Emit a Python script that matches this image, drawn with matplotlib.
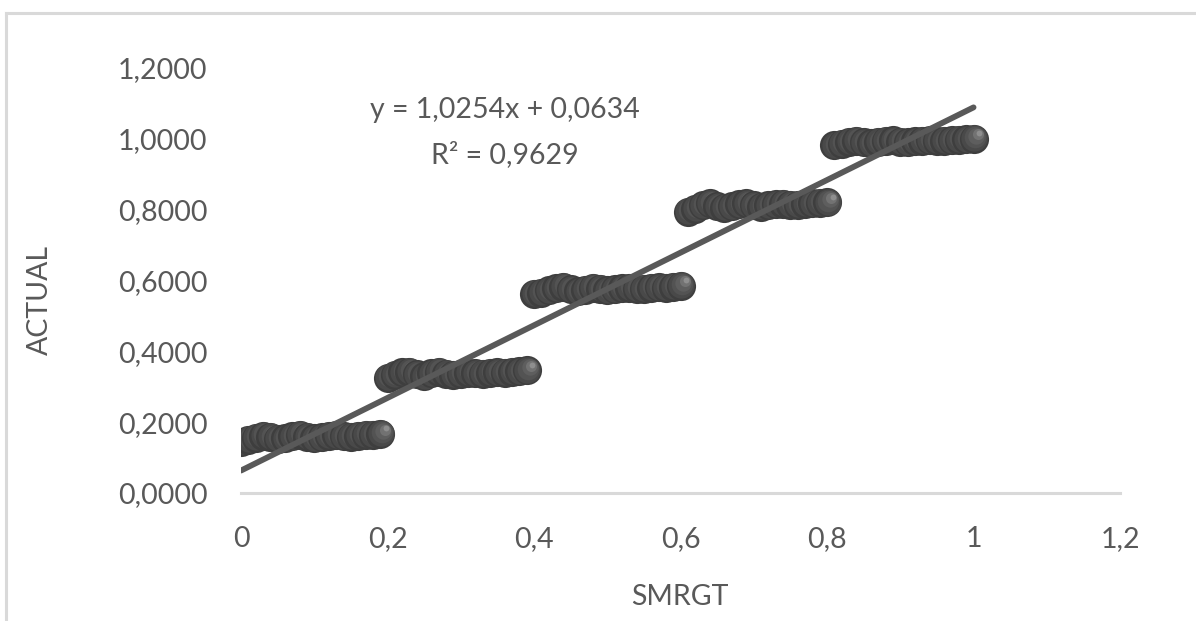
import matplotlib
matplotlib.use("Agg")
import matplotlib.pyplot as plt
from matplotlib.lines import Line2D
from matplotlib.transforms import ScaledTranslation

# SMRGT vs ACTUAL, five bands of points
band_1_x = [0.00, 0.01, 0.02, 0.03, 0.04, 0.05, 0.06, 0.07, 0.08, 0.09,
            0.10, 0.11, 0.12, 0.13, 0.14, 0.15, 0.16, 0.17, 0.18, 0.19]
band_1_y = [0.144, 0.150, 0.156, 0.162, 0.158, 0.153, 0.155, 0.160, 0.164, 0.158,
            0.154, 0.157, 0.161, 0.163, 0.160, 0.159, 0.162, 0.164, 0.165, 0.167]
band_2_x = [0.20, 0.21, 0.22, 0.23, 0.24, 0.25, 0.26, 0.27, 0.28, 0.29,
            0.30, 0.31, 0.32, 0.33, 0.34, 0.35, 0.36, 0.37, 0.38, 0.39]
band_2_y = [0.325, 0.333, 0.341, 0.343, 0.335, 0.330, 0.338, 0.342, 0.336, 0.333,
            0.337, 0.340, 0.338, 0.336, 0.339, 0.341, 0.340, 0.342, 0.344, 0.347]
band_3_x = [0.40, 0.41, 0.42, 0.43, 0.44, 0.45, 0.46, 0.47, 0.48, 0.49, 0.50,
            0.51, 0.52, 0.53, 0.54, 0.55, 0.56, 0.57, 0.58, 0.59, 0.60]
band_3_y = [0.562, 0.566, 0.572, 0.578, 0.582, 0.575, 0.570, 0.574, 0.579, 0.576, 0.572,
            0.575, 0.578, 0.580, 0.577, 0.576, 0.579, 0.581, 0.580, 0.583, 0.585]
band_4_x = [0.61, 0.62, 0.63, 0.64, 0.65, 0.66, 0.67, 0.68, 0.69, 0.70,
            0.71, 0.72, 0.73, 0.74, 0.75, 0.76, 0.77, 0.78, 0.79, 0.80]
band_4_y = [0.794, 0.803, 0.812, 0.818, 0.810, 0.805, 0.810, 0.815, 0.818, 0.812,
            0.808, 0.812, 0.815, 0.817, 0.814, 0.813, 0.816, 0.818, 0.819, 0.821]
band_5_x = [0.81, 0.82, 0.83, 0.84, 0.85, 0.86, 0.87, 0.88, 0.89, 0.90,
            0.91, 0.92, 0.93, 0.94, 0.95, 0.96, 0.97, 0.98, 0.99, 1.00]
band_5_y = [0.982, 0.986, 0.991, 0.995, 0.990, 0.988, 0.991, 0.994, 0.996, 0.992,
            0.990, 0.993, 0.995, 0.996, 0.994, 0.994, 0.996, 0.998, 0.999, 1.000]

trend_slope = 1.0254
trend_intercept = 0.0634
trend_r2 = 0.9629
trend_range = [0.0, 1.0]

x_ticks = [0, 0.2, 0.4, 0.6, 0.8, 1.0, 1.2]
y_ticks = [0, 0.2, 0.4, 0.6, 0.8, 1.0, 1.2]

smrgt = band_1_x + band_2_x + band_3_x + band_4_x + band_5_x
actual = band_1_y + band_2_y + band_3_y + band_4_y + band_5_y

text_color = "#595959"
plt.rcParams["font.family"] = ["Lato", "DejaVu Sans"]

fig = plt.figure(figsize=(11.96, 6.21), dpi=100)
ax = fig.add_axes([0.2015, 0.2061, 0.735, 0.6844])

# shaded "sphere" markers: stacked circles, lighter toward the top right
radius_in = 0.145
base_size = 440
layers = [
    (1.00, 0.00, "#3e3e3e"),
    (0.90, 0.04, "#494949"),
    (0.74, 0.10, "#535353"),
    (0.56, 0.20, "#5e5e5e"),
    (0.38, 0.30, "#727272"),
    (0.20, 0.38, "#8e8e8e"),
]
for i, (px, py) in enumerate(zip(smrgt, actual)):
    for j, (scale, shift, color) in enumerate(layers):
        off = ScaledTranslation(shift * radius_in, shift * radius_in, fig.dpi_scale_trans)
        ax.scatter([px], [py], s=base_size * scale ** 2, color=color,
                   linewidths=0, transform=ax.transData + off,
                   zorder=2 + i * 0.01 + j * 0.001)

trend_y = [trend_slope * v + trend_intercept for v in trend_range]
ax.plot(trend_range, trend_y, color=text_color, lw=4.2,
        solid_capstyle="round", zorder=5)

ax.text(0.36, 1.082, "y = {:.4f}x + {:.4f}".format(trend_slope, trend_intercept).replace(".", ","),
        ha="center", va="center", fontsize=20.5, color=text_color)
ax.text(0.36, 0.955, "R² = {:.4f}".format(trend_r2).replace(".", ","),
        ha="center", va="center", fontsize=20.5, color=text_color)

ax.set_xlim(0, 1.2)
ax.set_ylim(0, 1.2)
ax.set_xticks(x_ticks)
ax.set_yticks(y_ticks)
ax.set_xticklabels([("{:g}".format(t)).replace(".", ",") for t in x_ticks])
ax.set_yticklabels(["{:.4f}".format(t).replace(".", ",") for t in y_ticks])
ax.tick_params(length=0, labelsize=20.5, labelcolor=text_color)
ax.tick_params(axis="x", pad=24)
ax.tick_params(axis="y", pad=24)

for side in ["top", "right", "left"]:
    ax.spines[side].set_visible(False)
ax.spines["bottom"].set_color("#d9d9d9")
ax.spines["bottom"].set_linewidth(2.2)
ax.spines["bottom"].set_zorder(1)

fig.text(0.5686, 0.039, "SMRGT", ha="center", va="center", fontsize=20.5, color=text_color)
fig.text(0.0335, 0.517, "ACTUAL", ha="center", va="center", rotation=90,
         fontsize=20.5, color=text_color)

# outer chart border (cut off on the right and bottom)
fig.add_artist(Line2D([0.005, 1.0], [0.979, 0.979], color="#d9d9d9", lw=2.2,
                      transform=fig.transFigure))
fig.add_artist(Line2D([0.005, 0.005], [0.0, 0.979], color="#d9d9d9", lw=2.2,
                      transform=fig.transFigure))

fig.savefig("out.png", dpi=100)
